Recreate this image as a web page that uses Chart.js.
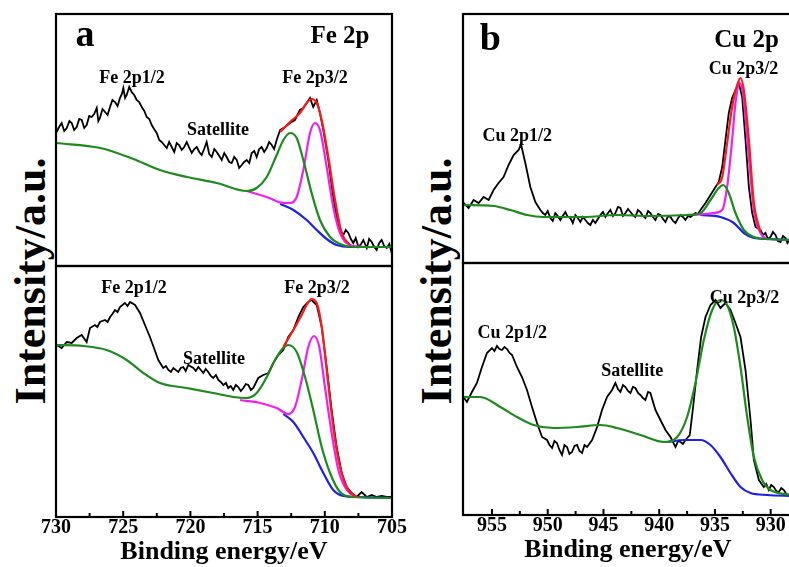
<!DOCTYPE html>
<html>
<head>
<meta charset="utf-8">
<script src="https://cdn.jsdelivr.net/npm/chart.js@4.4.1/dist/chart.umd.min.js"></script>
<style>
  html, body { margin: 0; padding: 0; background: #fff; }
  body { position: relative; width: 789px; height: 567px; overflow: hidden; }
  canvas { position: absolute; }
  .ylab { position: absolute; font: bold 44px "Liberation Serif", serif; white-space: nowrap; color: #000;
          transform: translate(-50%, -50%) rotate(-90deg); }
</style>
</head>
<body>
<div class="ylab" style="left:30px; top:281px;">Intensity/a.u.</div>
<div class="ylab" style="left:436px; top:281px;">Intensity/a.u.</div>
<canvas id="feTop" width="376" height="256" style="left:36px; top:12px;"></canvas>
<canvas id="feBottom" width="376" height="301" style="left:36px; top:264px;"></canvas>
<canvas id="cuTop" width="370" height="253" style="left:443px; top:12px;"></canvas>
<canvas id="cuBottom" width="370" height="302" style="left:443px; top:261px;"></canvas>
<script>
// tick labels
const feTicks = [730, 725, 720, 715, 710, 705];
const feMinor = [727.5, 722.5, 717.5, 712.5, 707.5];
const cuTicks = [955, 950, 945, 940, 935, 930];
const cuMinor = [952.5, 947.5, 942.5, 937.5, 932.5];

// Fe 2p, upper spectrum  [binding energy, intensity]
const feTopRaw = [[729.95,134],[729.77,139],[729.58,143],[729.39,135],[729.2,138],[729.0,145],[728.83,143],[728.65,136],[728.46,139],[728.27,147],[728.09,146],[727.9,138],[727.72,141],[727.53,150],[727.35,149],[727.16,152],[726.97,158],[726.85,145],[726.73,148],[726.54,157],[726.35,154],[726.16,151],[725.98,159],[725.8,166],[725.61,164],[725.42,160],[725.24,168],[725.1,172],[724.99,178],[724.86,168],[724.74,171],[724.55,179],[724.37,174],[724.18,171],[724.0,166],[723.81,164],[723.62,159],[723.43,155],[723.25,149],[723.06,147],[722.88,141],[722.7,137],[722.51,133],[722.32,126],[722.14,124],[721.95,121],[721.76,118],[721.58,124],[721.39,119],[721.2,114],[721.02,123],[720.84,121],[720.65,116],[720.46,119],[720.27,124],[720.08,118],[719.9,113],[719.71,117],[719.53,119],[719.34,114],[719.16,111],[718.98,117],[718.79,124],[718.6,112],[718.41,109],[718.22,117],[718.04,114],[717.85,110],[717.67,106],[717.48,113],[717.3,109],[717.11,104],[716.93,103],[716.74,109],[716.55,106],[716.37,98],[716.18,101],[716.0,104],[715.81,106],[715.62,103],[715.44,113],[715.25,115],[715.07,109],[714.88,117],[714.7,119],[714.51,114],[714.32,118],[714.14,124],[713.95,121],[713.77,117],[713.58,126],[713.33,136],[712.96,139],[712.59,143],[712.22,146],[711.85,156],[711.6,158],[711.35,163],[711.1,168],[710.86,159],[710.6,166],[710.36,153],[710.11,136],[709.74,106],[709.37,69],[708.99,39],[708.62,31],[708.44,36],[708.25,33],[708.06,27],[707.88,23],[707.7,28],[707.5,19],[707.3,22],[707.13,26],[706.88,18],[706.7,27],[706.51,24],[706.32,19],[706.14,16],[705.95,23],[705.77,26],[705.58,20],[705.39,18],[705.2,22],[705.02,13]];
const feTopGreen = [[730,123],[726.7,118],[724.25,107],[722.26,96],[720.27,89],[718.04,83],[715.81,75],[715.07,78],[714.32,89],[713.58,111],[713.08,126],[712.59,133],[712.09,128],[711.6,106],[710.98,73],[710.36,46],[709.61,29],[708.87,22],[707.88,19],[705,19]];
const feTopMagenta = [[715.81,75],[714.32,69],[713.08,63],[712.59,63],[712.09,69],[711.6,96],[711.1,133],[710.73,143],[710.36,136],[709.86,99],[709.37,59],[708.87,33],[708.13,21],[706.9,19]];
const feTopBlue = [[713.33,62],[712.34,56],[711.35,46],[710.6,36],[709.86,27],[709.12,21],[708.13,19],[705,19]];
const feTopRed = [[713.33,134],[712.59,144],[711.85,153],[711.35,163],[710.98,167],[710.6,163],[710.23,146],[709.74,109],[709.24,66],[708.74,33],[708.13,21]];

// Fe 2p, lower spectrum
const feBotRaw = [[729.95,172],[729.58,169],[729.2,175],[728.83,174],[728.46,179],[728.09,182],[727.72,175],[727.47,189],[727.1,192],[726.92,190],[726.73,195],[726.35,197],[726.16,195],[725.98,200],[725.8,203],[725.61,207],[725.42,205],[725.24,210],[724.87,214],[724.68,211],[724.49,215],[724.12,212],[723.75,204],[723.38,192],[723.01,180],[722.71,169],[722.39,157],[722.02,149],[721.82,151],[721.64,147],[721.45,145],[721.27,149],[720.9,145],[720.72,149],[720.53,150],[720.35,146],[720.16,152],[719.78,149],[719.6,146],[719.41,150],[719.22,147],[719.04,144],[718.86,148],[718.67,145],[718.48,141],[718.3,139],[718.1,142],[717.92,137],[717.74,135],[717.55,132],[717.36,134],[717.18,129],[717.0,131],[716.81,127],[716.62,132],[716.44,130],[716.25,126],[716.06,129],[715.88,133],[715.69,132],[715.5,127],[715.32,129],[714.95,139],[714.58,142],[714.2,144],[713.83,154],[713.46,162],[713.09,167],[712.72,180],[712.34,187],[711.97,200],[711.6,210],[711.23,215],[710.98,217],[710.6,212],[710.23,190],[709.86,150],[709.49,107],[709.12,70],[708.74,44],[708.37,30],[708.0,24],[707.63,20],[707.26,25],[706.88,20],[706.5,22],[706.14,20],[705.76,21],[705.39,20],[705.02,20]];
const feBotGreen = [[730,172],[727.97,171],[726.23,167],[724.74,157],[723.5,144],[722.26,134],[720.27,129],[718.3,124],[716.81,120],[715.81,119],[715.07,124],[714.32,140],[713.58,160],[712.72,172],[712.09,165],[711.47,140],[710.86,107],[710.23,70],[709.61,44],[708.87,25],[707.88,20],[705,19]];
const feBotMagenta = [[716.31,117],[714.82,114],[713.58,109],[712.72,103],[712.22,110],[711.72,137],[711.23,170],[710.8,181],[710.41,170],[709.99,130],[709.49,84],[708.99,47],[708.37,27],[707.63,20]];
const feBotBlue = [[713.09,103],[712.34,95],[711.6,80],[710.86,64],[710.11,44],[709.37,27],[708.62,21],[707.63,20],[705,19]];
const feBotRed = [[713.09,170],[712.34,187],[711.72,202],[711.35,212],[710.98,218],[710.6,214],[710.23,190],[709.86,147],[709.37,90],[708.87,50],[708.25,27],[707.63,20]];

// Cu 2p, upper spectrum
const cuTopRaw = [[957.55,60],[957.1,55],[956.65,63],[956.2,60],[955.75,66],[955.3,63],[954.86,73],[954.41,80],[953.96,86],[953.51,98],[953.06,108],[952.61,113],[952.4,119],[952.01,100],[951.56,76],[951.11,61],[950.66,53],[950.44,50],[950.22,48],[950.0,52],[949.77,45],[949.55,42],[949.32,50],[949.1,47],[948.87,43],[948.65,47],[948.42,51],[948.2,46],[947.97,45],[947.75,40],[947.52,48],[947.3,45],[947.07,41],[946.85,46],[946.62,43],[946.4,40],[946.18,38],[945.95,43],[945.73,40],[945.5,44],[945.28,48],[945.05,51],[944.83,46],[944.6,50],[944.38,53],[944.15,47],[943.93,50],[943.7,56],[943.48,55],[943.25,47],[943.03,50],[942.8,54],[942.58,51],[942.36,48],[942.14,46],[941.91,53],[941.69,51],[941.46,47],[941.24,45],[941.0,52],[940.79,50],[940.56,46],[940.34,43],[940.1,49],[939.89,48],[939.66,44],[939.44,41],[939.2,47],[938.99,46],[938.76,42],[938.54,40],[938.3,45],[938.09,48],[937.87,46],[937.65,43],[937.42,47],[937.2,46],[936.97,48],[936.75,50],[936.52,49],[936.3,53],[935.85,60],[935.4,68],[934.95,76],[934.66,81],[934.35,96],[934.06,123],[933.76,150],[933.46,165],[933.16,173],[932.86,180],[932.56,166],[932.26,123],[931.96,76],[931.66,50],[931.36,36],[930.92,33],[930.7,28],[930.47,30],[930.25,24],[930.02,26],[929.8,31],[929.57,28],[929.35,22],[929.12,21],[928.9,27],[928.67,25],[928.5,20],[928.31,23]];
const cuTopGreen = [[957.6,58],[954.86,57],[953.36,53],[951.86,48],[950.37,46],[946.77,46],[943.78,48],[940.79,47],[937.5,48],[936.3,50],[935.4,63],[934.66,75],[934.26,78],[933.76,70],[933.16,50],[932.41,33],[931.51,26],[930.32,24],[928,23]];
const cuTopMagenta = [[936.9,48],[935.1,50],[934.35,53],[933.91,76],[933.46,123],[933.16,160],[932.77,180],[932.41,163],[931.96,106],[931.51,53],[930.92,30],[930.32,24]];
const cuTopBlue = [[936.3,48],[934.51,46],[933.31,40],[932.41,30],[931.51,25],[930.32,24],[928,23]];
const cuTopRed = [[934.81,78],[934.35,86],[933.91,120],[933.46,156],[933.01,178],[932.71,185],[932.41,173],[931.96,123],[931.51,60],[930.92,31]];

// Cu 2p, lower spectrum
const cuBotRaw = [[957.55,118],[957.25,113],[956.8,123],[956.35,132],[955.9,148],[955.45,162],[955.0,167],[954.78,164],[954.55,169],[954.33,166],[954.1,165],[953.88,168],[953.65,166],[953.42,162],[953.2,160],[952.76,148],[952.31,138],[951.86,125],[951.41,108],[950.96,92],[950.51,78],[950.06,75],[949.84,70],[949.61,67],[949.4,74],[949.17,72],[948.95,65],[948.72,60],[948.5,70],[948.27,68],[948.05,61],[947.82,63],[947.6,69],[947.37,70],[947.15,64],[946.92,62],[946.7,70],[946.47,68],[946.02,75],[945.57,88],[945.13,105],[944.68,118],[944.23,125],[943.93,132],[943.7,126],[943.48,123],[943.25,130],[943.03,128],[942.8,124],[942.58,122],[942.36,128],[942.14,127],[941.9,122],[941.69,120],[941.46,117],[941.24,115],[941.0,123],[940.79,122],[940.34,105],[939.89,95],[939.44,85],[938.99,78],[938.54,68],[938.3,74],[938.09,73],[937.87,71],[937.65,75],[937.26,80],[936.96,108],[936.6,145],[936.24,178],[935.85,198],[935.4,210],[934.95,215],[934.51,207],[934.06,212],[933.61,205],[933.16,192],[932.71,178],[932.26,145],[931.81,95],[931.51,55],[931.06,35],[930.62,28],[930.4,31],[930.17,25],[929.95,30],[929.72,28],[929.5,24],[929.27,23],[929.05,27],[928.82,25],[928.6,21],[928.37,20]];
const cuBotGreen = [[957.6,118],[956.05,118],[954.25,108],[952.76,98],[951.27,90],[949.47,87],[947.37,88],[945.28,90],[943.78,87],[941.69,80],[939.59,73],[938.39,78],[937.5,98],[936.75,132],[936.0,175],[935.25,205],[934.51,215],[933.91,210],[933.31,188],[932.71,148],[932.11,98],[931.51,58],[930.77,35],[930.02,25],[928,20]];
const cuBotBlue = [[939.29,73],[937.8,75],[936.3,75],[935.4,70],[934.51,58],[933.61,42],[932.71,28],[931.81,22],[930.32,20],[928,19]];

// text notes: [text, binding energy, intensity, kind]
const feTopNotes = [['a',727.84,230,'panel'],['Fe 2p',708.87,229,'title'],['Fe 2p1/2',724.35,188,'peak'],['Fe 2p3/2',710.73,188,'peak'],['Satellite',717.95,136,'peak']];
const feBotNotes = [['Fe 2p1/2',724.2,229,'peak'],['Fe 2p3/2',710.58,229,'peak'],['Satellite',718.24,158,'peak']];
const cuTopNotes = [['b',955.15,223,'panel'],['Cu 2p',932.17,222,'title'],['Cu 2p3/2',932.44,194,'peak'],['Cu 2p1/2',952.73,127,'peak']];
const cuBotNotes = [['Cu 2p3/2',932.35,217,'peak'],['Cu 2p1/2',953.18,182,'peak'],['Satellite',942.41,144,'peak']];

const FONT = 'Liberation Serif';
const noteSize = { panel: 38, title: 25, peak: 18 };
const GREEN = '#1e8a1e', BLUE = '#1f1fe6', MAGENTA = '#f020f0', RED = '#ff1a1a';

// frame, inward ticks and text notes
const frameTicks = {
  id: 'frameTicks',
  afterDatasetsDraw(chart, args, opts) {
    const { ctx, chartArea: a, scales: { x, y } } = chart;
    ctx.save();
    ctx.fillStyle = '#000';
    ctx.textAlign = 'center';
    ctx.textBaseline = 'middle';
    (opts.notes || []).forEach(([text, ex, ey, kind]) => {
      ctx.font = `bold ${noteSize[kind]}px "${FONT}"`;
      ctx.fillText(text, x.getPixelForValue(ex), y.getPixelForValue(ey));
    });
    ctx.strokeStyle = '#000';
    ctx.lineWidth = 2.2;
    ctx.strokeRect(a.left, a.top, a.width, a.height);
    if (opts.major) {
      ctx.lineWidth = 2;
      ctx.beginPath();
      opts.major.forEach(v => { const px = x.getPixelForValue(v); ctx.moveTo(px, a.bottom); ctx.lineTo(px, a.bottom - 6); });
      opts.minor.forEach(v => { const px = x.getPixelForValue(v); ctx.moveTo(px, a.bottom); ctx.lineTo(px, a.bottom - 4); });
      ctx.stroke();
    }
    ctx.restore();
  }
};

function line(pairs, color, smooth) {
  return {
    data: pairs.map(([x, y]) => ({ x, y })),
    borderColor: color,
    borderWidth: smooth ? 2.2 : 1.8,
    pointRadius: 0,
    fill: false,
    cubicInterpolationMode: smooth ? 'monotone' : 'default',
    tension: 0,
  };
}

function makeChart(id, xMin, xMax, yMax, datasets, notes, ticks, minor) {
  const bottom = !!ticks;
  new Chart(document.getElementById(id), {
    type: 'line',
    data: { datasets },
    options: {
      responsive: false,
      animation: false,
      layout: { padding: { left: 20, right: 20, top: 2, bottom: bottom ? 0 : 2 } },
      plugins: { legend: { display: false }, tooltip: { enabled: false }, frameTicks: { notes, major: ticks, minor } },
      scales: {
        x: {
          type: 'linear', min: xMin, max: xMax, reverse: true, display: bottom,
          grid: { display: false, drawTicks: false }, border: { display: false },
          afterBuildTicks: s => { s.ticks = (ticks || []).map(v => ({ value: v })); },
          ticks: { color: '#000', padding: 0, maxRotation: 0, autoSkip: false,
                   font: { family: FONT, size: 20, weight: 'bold', lineHeight: 1.1 } },
          title: { display: true, text: 'Binding energy/eV', color: '#000', padding: 0,
                   font: { family: FONT, size: 26, weight: 'bold', lineHeight: 1.0 } },
        },
        y: { display: false, min: 0, max: yMax },
      },
    },
    plugins: [frameTicks],
  });
}

makeChart('feTop', 705, 730, 252, [
  line(feTopRed, RED, true), line(feTopGreen, GREEN, true), line(feTopMagenta, MAGENTA, true),
  line(feTopBlue, BLUE, true), line(feTopRaw, '#000', false)], feTopNotes);
makeChart('feBottom', 705, 730, 251, [
  line(feBotRed, RED, true), line(feBotGreen, GREEN, true), line(feBotMagenta, MAGENTA, true),
  line(feBotBlue, BLUE, true), line(feBotRaw, '#000', false)], feBotNotes, feTicks, feMinor);
makeChart('cuTop', 928, 957.6, 249, [
  line(cuTopRed, RED, true), line(cuTopGreen, GREEN, true), line(cuTopMagenta, MAGENTA, true),
  line(cuTopBlue, BLUE, true), line(cuTopRaw, '#000', false)], cuTopNotes);
makeChart('cuBottom', 928, 957.6, 252, [
  line(cuBotGreen, GREEN, true), line(cuBotBlue, BLUE, true), line(cuBotRaw, '#000', false)],
  cuBotNotes, cuTicks, cuMinor);
</script>
</body>
</html>
